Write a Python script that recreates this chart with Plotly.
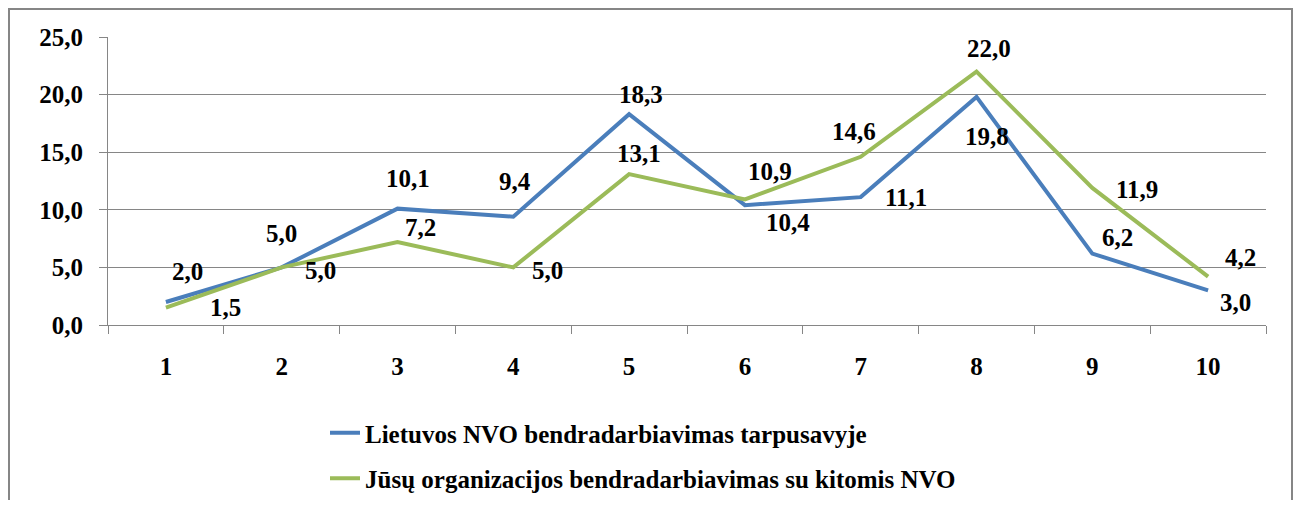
import plotly.graph_objects as go

categories = ["1", "2", "3", "4", "5", "6", "7", "8", "9", "10"]
lietuvos = [2.0, 5.0, 10.1, 9.4, 18.3, 10.4, 11.1, 19.8, 6.2, 3.0]
jusu = [1.5, 5.0, 7.2, 5.0, 13.1, 10.9, 14.6, 22.0, 11.9, 4.2]
series_names = ["Lietuvos NVO bendradarbiavimas tarpusavyje",
                "Jūsų organizacijos bendradarbiavimas su kitomis NVO"]
y_ticks = [0, 5, 10, 15, 20, 25]

# label offsets in pixels (style)
blue_shift = [(22, -30), (0, -34), (10, -30), (2, -35), (12, -20), (43, 17), (45, 0), (10, 40), (25, -16), (27, 12)]
green_shift = [(60, 0), (39, 3), (23, -15), (34, 3), (10, -21), (25, -28), (-7, -25), (12, -23), (45, 2), (32, -19)]

BLUE = "#4A7EBB"
GREEN = "#9BBB59"
GRID = "#868686"
FONT = "Liberation Serif"
FS = 25

fig = go.Figure()
fig.add_trace(go.Scatter(x=categories, y=lietuvos, mode="lines", name=series_names[0],
                         line=dict(color=BLUE, width=4), legendgroup="a"))
fig.add_trace(go.Scatter(x=categories, y=jusu, mode="lines", name=series_names[1],
                         line=dict(color=GREEN, width=4), legendgroup="b"))

def fmt(v):
    return f"{v:.1f}".replace(".", ",")

for vals, shifts in ((lietuvos, blue_shift), (jusu, green_shift)):
    for i, (v, (dx, dy)) in enumerate(zip(vals, shifts)):
        fig.add_annotation(x=i, y=v, text=f"<b>{fmt(v)}</b>", showarrow=False,
                           xshift=dx, yshift=-dy,
                           font=dict(family=FONT, size=FS, color="black"))

# page has an 8px body margin
W, H = 1285, 492
L, T = 100, 29
pw, ph = 1158, 288
R, B = W - L - pw, H - T - ph
# outer border (page coords 9..1292 x, 9.. y)
fig.add_shape(type="rect", xref="paper", yref="paper",
              x0=(1 - L) / pw, x1=(1284 - L) / pw,
              y0=(T + ph - 520) / ph, y1=(T + ph - 1) / ph,
              line=dict(color=GRID, width=2), fillcolor="rgba(0,0,0,0)", layer="below")

fig.update_layout(
    width=W, height=H,
    margin=dict(l=L, r=R, t=T, b=B, autoexpand=False),
    plot_bgcolor="white", paper_bgcolor="white",
    separators=", ",
    font=dict(family=FONT, size=FS, color="black"),
    showlegend=True,
    legend=dict(x=(325 - 108) / pw, y=(325 - 410) / ph, xanchor="left", yanchor="top",
                font=dict(family=FONT, size=FS, color="black", weight="bold"),
                tracegroupgap=10, bgcolor="rgba(0,0,0,0)"),
    xaxis=dict(type="category", range=[-0.5, 9.5], showgrid=False, showline=True,
               linecolor=GRID, linewidth=1,
               ticks="outside", tickson="boundaries", ticklen=8, tickcolor=GRID,
               tickfont=dict(family=FONT, size=FS, weight="bold"), ticklabelstandoff=19,
               fixedrange=True),
    yaxis=dict(range=[0, 25], tickvals=y_ticks, tickformat=".1f", showgrid=True,
               gridcolor=GRID, gridwidth=1, showline=True, linecolor=GRID, linewidth=1,
               ticks="outside", ticklen=8, tickcolor=GRID, zeroline=False,
               tickfont=dict(family=FONT, size=FS, weight="bold"), ticklabelstandoff=11),
)

fig.write_html("out.html")
